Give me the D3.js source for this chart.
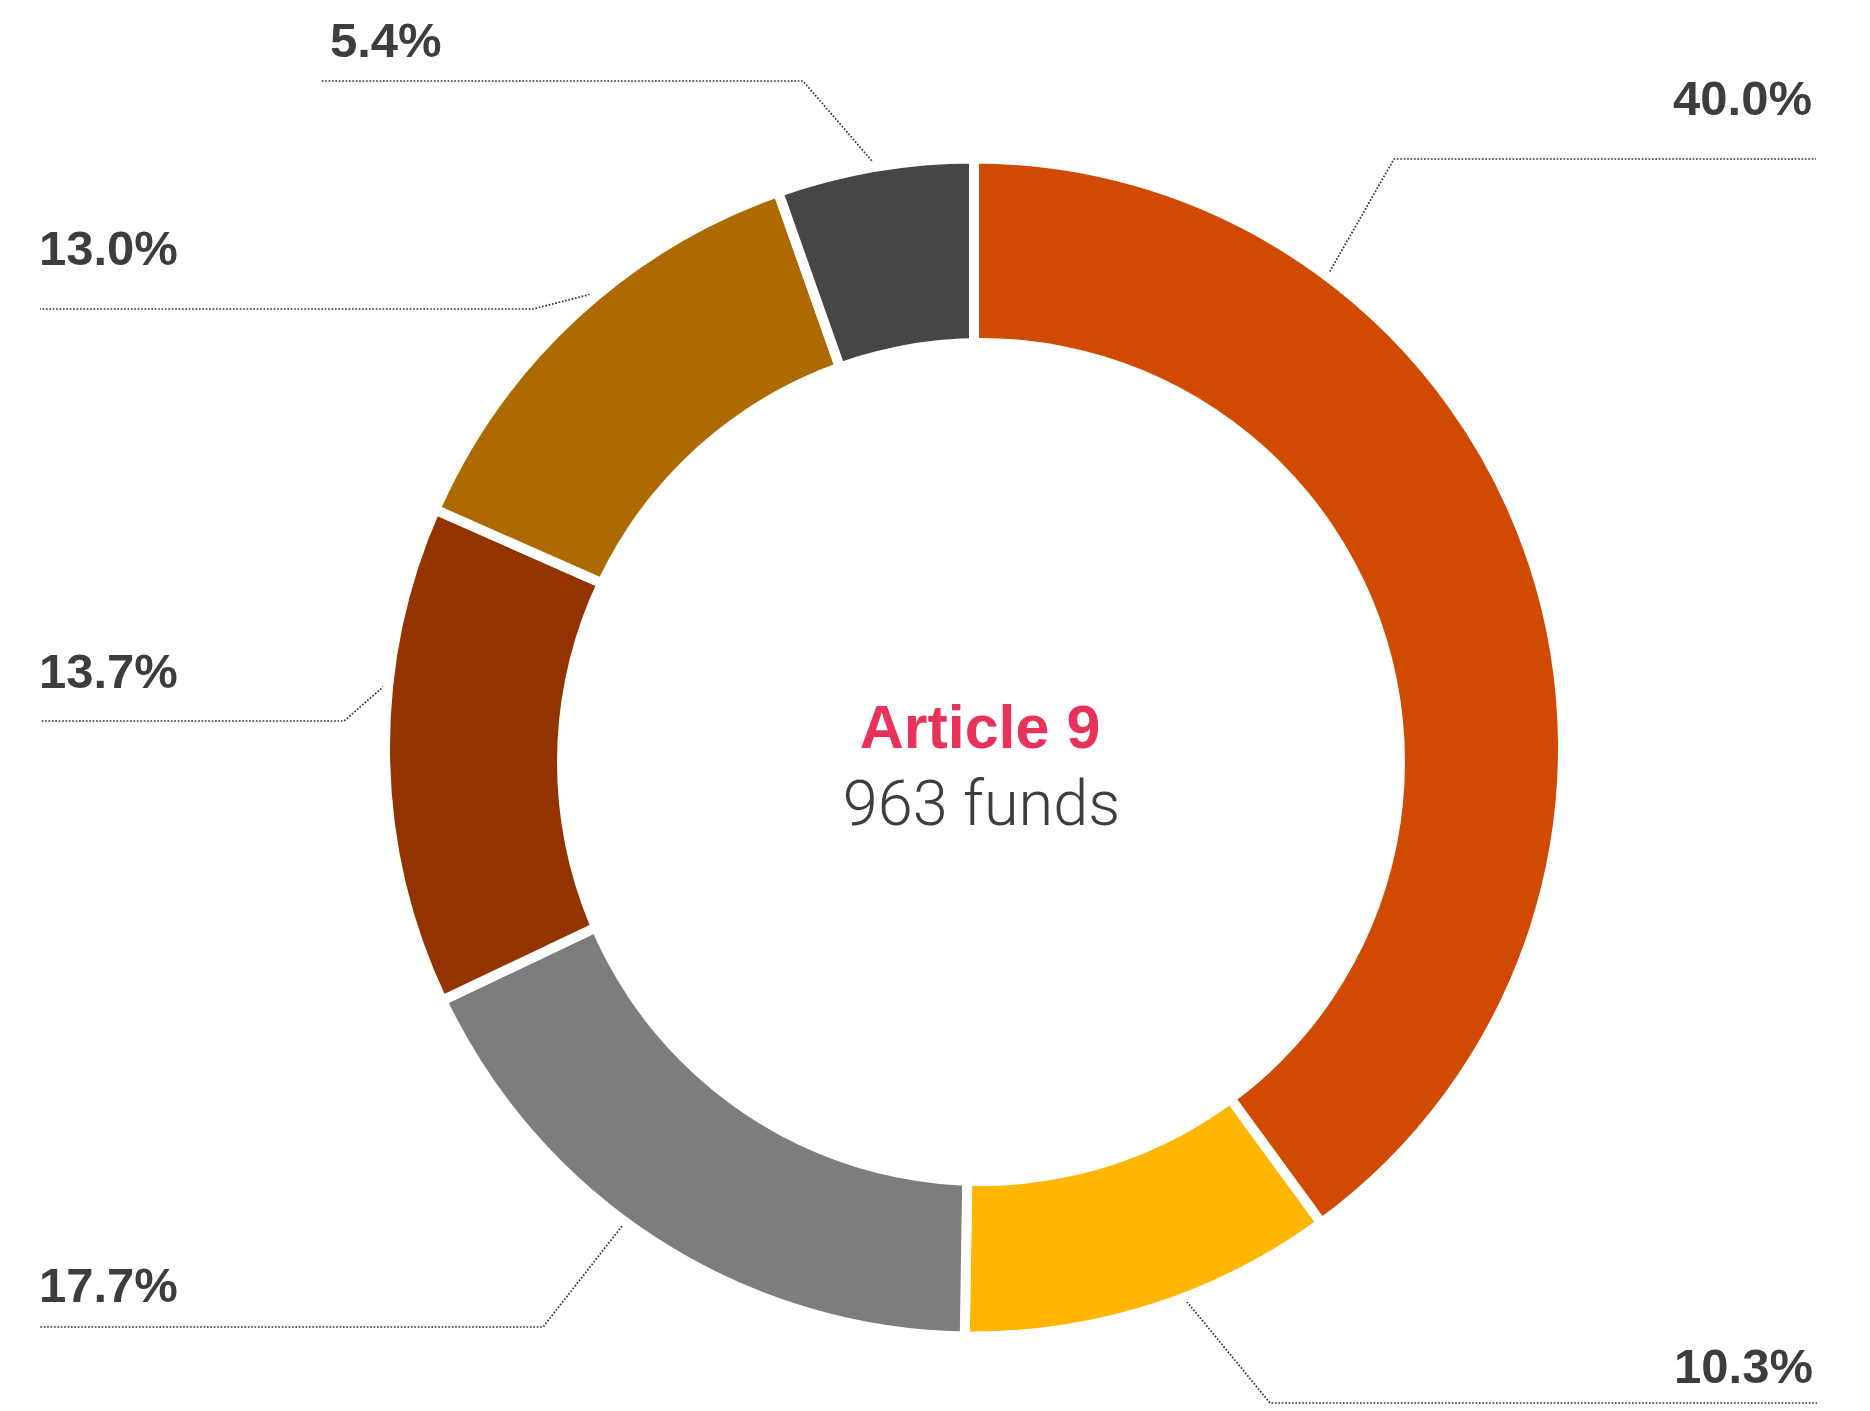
<!DOCTYPE html>
<html>
<head>
<meta charset="utf-8">
<script src="https://cdn.jsdelivr.net/npm/d3@7"></script>
<style>
  html, body { margin: 0; padding: 0; background: #ffffff; }
  svg { display: block; }
</style>
</head>
<body>
<svg id="chart" width="1870" height="1411"></svg>
<script>
// ---- data ----
const categories = ["Segment 1", "Segment 2", "Segment 3", "Segment 4", "Segment 5", "Segment 6"];
const values = [40.0, 10.3, 17.7, 13.7, 13.0, 5.4];
const valueLabels = ["40.0%", "10.3%", "17.7%", "13.7%", "13.0%", "5.4%"];
const centerTitle = "Article 9";
const centerSubtitle = "963 funds";

// ---- styles / layout ----
const colors = ["#D04A02", "#FFB600", "#7D7D7D", "#933400", "#AD6A00", "#464646"];
const W = 1870, H = 1411;
const cx = 974, cy = 747.5;
const outerR = 589;          // white 10px stroke trims visible edge to ~584
const visibleR = 584;
const hole = { x: 981, y: 762, r: 424 };

// leader-line layout per segment (angle on ring in degrees clockwise from top)
const leaderLayout = [
  { angle: 36.9,  elbow: [1394, 159],  endX: 1816, textX: 1812, textY: 115,  anchor: "end" },
  { angle: 159.3, elbow: [1270, 1403], endX: 1817, textX: 1813, textY: 1383, anchor: "end" },
  { angle: 216.3, elbow: [543, 1327],  endX: 40,   textX: 39,   textY: 1302, anchor: "start" },
  { angle: 276.9, elbow: [344, 721],   endX: 40,   textX: 39,   textY: 688,  anchor: "start" },
  { angle: 321.8, elbow: [533, 309],   endX: 40,   textX: 39,   textY: 265,  anchor: "start" },
  { angle: 350.8, elbow: [803, 81],    endX: 321,  textX: 330,  textY: 57,   anchor: "start" }
];

const svg = d3.select("#chart");

const color = d3.scaleOrdinal().domain(categories).range(colors);

const pie = d3.pie().sort(null).value(d => d.value).startAngle(0).endAngle(2 * Math.PI);
const arcs = pie(categories.map((c, i) => ({ category: c, value: values[i], label: valueLabels[i] })));

const arc = d3.arc().innerRadius(0).outerRadius(outerR);

// leader lines (drawn first, under the ring)
const line = d3.line();
const gLines = svg.append("g");
arcs.forEach((a, i) => {
  const L = leaderLayout[i];
  const t = L.angle * Math.PI / 180;
  const p0 = [cx + visibleR * Math.sin(t), cy - visibleR * Math.cos(t)];
  const pts = [p0, L.elbow, [L.endX, L.elbow[1]]];
  gLines.append("path")
    .attr("d", line(pts))
    .attr("fill", "none")
    .attr("stroke", "#333333")
    .attr("stroke-width", 1.7)
    .attr("stroke-dasharray", "1.7,1.7");
});

// ring
const gRing = svg.append("g").attr("transform", `translate(${cx},${cy})`);
gRing.selectAll("path")
  .data(arcs)
  .join("path")
  .attr("d", arc)
  .attr("fill", d => color(d.data.category))
  .attr("stroke", "#ffffff")
  .attr("stroke-width", 10)
  .attr("stroke-linejoin", "miter");

// hole
svg.append("circle")
  .attr("cx", hole.x).attr("cy", hole.y).attr("r", hole.r)
  .attr("fill", "#ffffff");

// value labels
const gLabels = svg.append("g");
arcs.forEach((a, i) => {
  const L = leaderLayout[i];
  gLabels.append("text")
    .attr("x", L.textX)
    .attr("y", L.textY)
    .attr("text-anchor", L.anchor)
    .attr("font-family", "'Liberation Sans', Arial, sans-serif")
    .attr("font-weight", "bold")
    .attr("font-size", 49)
    .attr("fill", "#3d3d3d")
    .text(a.data.label);
});

// center text
svg.append("text")
  .attr("x", 980).attr("y", 748)
  .attr("text-anchor", "middle")
  .attr("font-family", "'Liberation Sans', Arial, sans-serif")
  .attr("font-weight", "bold")
  .attr("font-size", 61)
  .attr("fill", "#E8325A")
  .text(centerTitle);

svg.append("text")
  .attr("x", 981.5).attr("y", 825)
  .attr("text-anchor", "middle")
  .attr("font-family", "Roboto, 'Liberation Sans', Arial, sans-serif")
  .attr("font-weight", 300)
  .attr("font-size", 63)
  .attr("fill", "#3d3d3d")
  .text(centerSubtitle);
</script>
</body>
</html>
